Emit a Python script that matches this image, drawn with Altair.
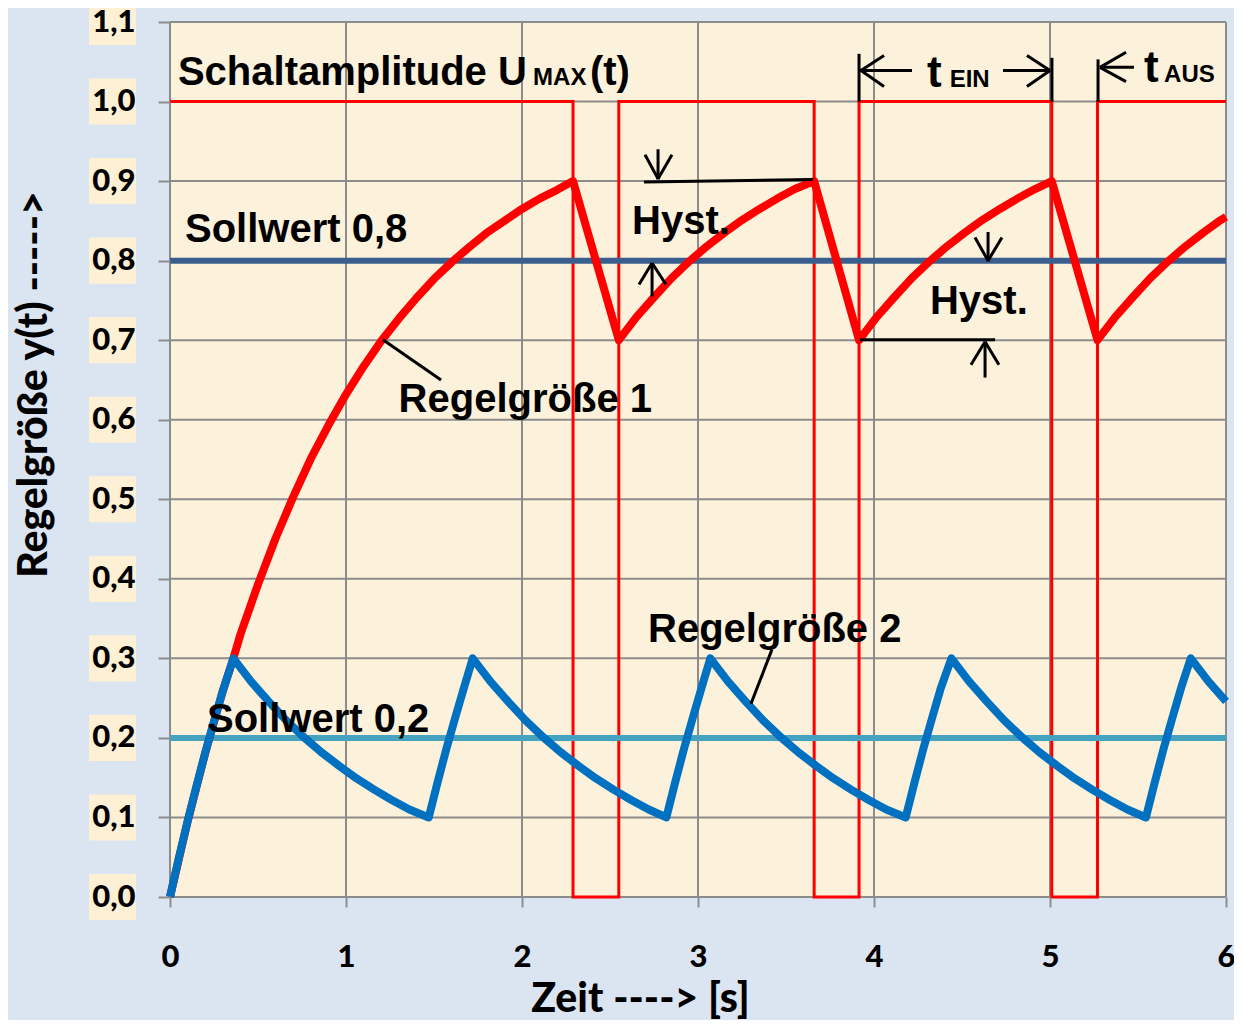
import altair as alt
import pandas as pd

# ---------------- data ----------------
x_ticks = [0, 1, 2, 3, 4, 5, 6]
y_ticks = [0.0, 0.1, 0.2, 0.3, 0.4, 0.5, 0.6, 0.7, 0.8, 0.9, 1.0, 1.1]

# Schaltamplitude U_MAX(t)
u_t = [0, 2.29, 2.29, 2.55, 2.55, 3.66, 3.66, 3.915, 3.915, 5.01, 5.01, 5.27, 5.27, 6.0]
u_v = [1, 1, 0, 0, 1, 1, 0, 0, 1, 1, 0, 0, 1, 1]

# Regelgröße 1
r1_t = [0, 0.1, 0.2, 0.3, 0.36, 0.4, 0.5, 0.6, 0.7, 0.8, 0.9, 1.0, 1.1, 1.2, 1.3, 1.4,
        1.5, 1.6, 1.7, 1.8, 1.9, 2.0, 2.1, 2.2, 2.29,
        2.55, 2.65, 2.75, 2.85, 2.95, 3.05, 3.15, 3.25, 3.35, 3.45, 3.55, 3.66,
        3.915, 4.015, 4.115, 4.215, 4.315, 4.415, 4.515, 4.615, 4.715, 4.815, 4.915, 5.01,
        5.27, 5.37, 5.47, 5.57, 5.67, 5.77, 5.87, 5.97, 6.0]
r1_y = [0, 0.095, 0.181, 0.259, 0.30, 0.330, 0.393, 0.451, 0.503, 0.551, 0.593, 0.632,
        0.667, 0.699, 0.727, 0.753, 0.777, 0.798, 0.817, 0.835, 0.850, 0.865, 0.878, 0.889,
        0.90,
        0.70, 0.729, 0.754, 0.778, 0.799, 0.818, 0.835, 0.851, 0.865, 0.878, 0.890, 0.90,
        0.70, 0.729, 0.754, 0.778, 0.799, 0.818, 0.835, 0.851, 0.865, 0.878, 0.890, 0.90,
        0.70, 0.729, 0.754, 0.778, 0.799, 0.818, 0.835, 0.851, 0.855]

# Regelgröße 2
r2_t = [0, 0.05, 0.1, 0.15, 0.2, 0.25, 0.3, 0.36,
        0.46, 0.56, 0.66, 0.76, 0.86, 0.96, 1.06, 1.16, 1.26, 1.36, 1.47,
        1.52, 1.57, 1.62, 1.67, 1.72,
        1.82, 1.92, 2.02, 2.12, 2.22, 2.32, 2.42, 2.52, 2.62, 2.72, 2.82,
        2.87, 2.92, 2.97, 3.02, 3.07,
        3.17, 3.27, 3.37, 3.47, 3.57, 3.67, 3.77, 3.87, 3.97, 4.07, 4.18,
        4.23, 4.28, 4.33, 4.38, 4.44,
        4.54, 4.64, 4.74, 4.84, 4.94, 5.04, 5.14, 5.24, 5.34, 5.44, 5.545,
        5.595, 5.645, 5.695, 5.745, 5.80,
        5.90, 6.0]
r2_y = [0, 0.049, 0.095, 0.139, 0.181, 0.221, 0.259, 0.30,
        0.271, 0.246, 0.222, 0.201, 0.182, 0.165, 0.149, 0.135, 0.122, 0.110, 0.10,
        0.144, 0.186, 0.225, 0.263, 0.30,
        0.271, 0.246, 0.222, 0.201, 0.182, 0.165, 0.149, 0.135, 0.122, 0.110, 0.10,
        0.144, 0.186, 0.225, 0.263, 0.30,
        0.271, 0.246, 0.222, 0.201, 0.182, 0.165, 0.149, 0.135, 0.122, 0.110, 0.10,
        0.144, 0.186, 0.225, 0.263, 0.30,
        0.271, 0.246, 0.222, 0.201, 0.182, 0.165, 0.149, 0.135, 0.122, 0.110, 0.10,
        0.144, 0.186, 0.225, 0.263, 0.30,
        0.271, 0.246]

# Sollwerte
soll_08 = [0.8]
soll_02 = [0.2]

# annotation segments (leader lines, hysteresis and time arrows)
seg_x1 = [1.210, 3.420, 2.693, 2.773, 2.699, 2.852, 2.739, 2.665, 2.818,
          4.648, 4.574, 4.727, 3.920, 4.631, 4.551, 4.710,
          3.915, 5.011, 3.920, 4.057, 4.057, 4.733, 4.869, 4.869,
          5.273, 5.284, 5.432, 5.432]
seg_y1 = [0.7006, 0.311, 0.899, 0.940, 0.933, 0.933, 0.755, 0.770, 0.770,
          0.836, 0.829, 0.829, 0.7006, 0.653, 0.669, 0.669,
          1.060, 1.055, 1.039, 1.058, 1.019, 1.039, 1.058, 1.019,
          1.053, 1.043, 1.062, 1.025]
seg_x2 = [1.540, 3.301, 3.653, 2.773, 2.773, 2.773, 2.739, 2.739, 2.739,
          4.648, 4.648, 4.648, 4.688, 4.631, 4.631, 4.631,
          3.915, 5.011, 4.216, 3.926, 3.926, 5.000, 5.000, 5.000,
          5.273, 5.477, 5.284, 5.284]
seg_y2 = [0.650, 0.243, 0.902, 0.902, 0.903, 0.903, 0.797, 0.797, 0.797,
          0.799, 0.800, 0.800, 0.7006, 0.698, 0.698, 0.698,
          1.000, 1.000, 1.039, 1.039, 1.039, 1.039, 1.039, 1.039,
          1.000, 1.043, 1.043, 1.043]

# big annotation texts
txt_label = ["Schaltamplitude U", "(t)", "Sollwert 0,8", "Regelgröße 1", "Hyst.", "Hyst.",
             "Regelgröße 2", "Sollwert 0,2"]
txt_x = [0.045, 2.386, 0.085, 1.299, 2.625, 4.318, 2.716, 0.210]
txt_y = [1.021, 1.021, 0.823, 0.610, 0.833, 0.733, 0.321, 0.2075]

# time symbols "t" (slightly larger)
tsym_label = ["t", "t"]
tsym_x = [4.301, 5.534]
tsym_y = [1.018, 1.024]

# subscripts
sub_label = ["MAX", "EIN", "AUS"]
sub_x = [2.063, 4.430, 5.648]
sub_y = [1.021, 1.018, 1.024]

# ---------------- chart ----------------
XS = alt.Scale(domain=[0, 6], nice=False, zero=False)
YS = alt.Scale(domain=[0, 1.1], nice=False, zero=False)
GRID = "#8c8c8c"

axis_x = alt.Axis(values=x_ticks, format="d", grid=False, domain=False, tickColor=GRID,
                  tickWidth=2, tickSize=10, labelFont="Lato", labelFontWeight=900,
                  labelFontSize=31, labelColor="black", labelBaseline="alphabetic",
                  labelPadding=59, labelFlush=False, title="Zeit ----> [s]",
                  titleFont="Lato", titleFontWeight=900, titleFontSize=41,
                  titleColor="black", titleX=470, titleY=114, titleBaseline="alphabetic",
                  titleAlign="center", zindex=1)
axis_y = alt.Axis(values=y_ticks, grid=False, domain=False, tickColor=GRID, tickWidth=2,
                  tickSize=12,
                  labelExpr="replace(format(datum.value, '.1f'), '.', ',')",
                  labelFont="Lato", labelFontWeight=900, labelFontSize=31,
                  labelColor="black", labelPadding=23, labelBaseline="middle",
                  labelFlush=False,
                  title="Regelgröße y(t) ----->", titleFont="Lato",
                  titleFontWeight=900, titleFontSize=41, titleColor="black",
                  titleX=-124, titleY=362, titleAngle=-90, titleBaseline="alphabetic",
                  titleAlign="center", zindex=1)


def X(f):
    return alt.X(f, scale=XS, axis=axis_x)


def Y(f):
    return alt.Y(f, scale=YS, axis=axis_y)


ytick_df = pd.DataFrame({"y": y_ticks})
boxes = alt.Chart(ytick_df).transform_calculate(
    lo="datum.y - 0.029", hi="datum.y + 0.029"
).mark_rect(color="#fdf0d4").encode(
    x=alt.value(-81), x2=alt.value(-34),
    y=Y("lo:Q"), y2="hi:Q"
)

gridx = alt.Chart(pd.DataFrame({"x": x_ticks})).mark_rule(color=GRID, strokeWidth=2).encode(
    x=X("x:Q")
)
gridy = alt.Chart(ytick_df).mark_rule(color=GRID, strokeWidth=2).encode(
    y=Y("y:Q")
)

u_df = pd.DataFrame({"x": u_t, "y": u_v, "i": range(len(u_t))})
square = alt.Chart(u_df).mark_line(color="#ff0000", strokeWidth=3).encode(
    x=X("x:Q"), y=Y("y:Q"), order="i:O"
)

s08 = alt.Chart(pd.DataFrame({"y": soll_08})).mark_rule(color="#3a5f8e", strokeWidth=6).encode(
    y=Y("y:Q")
)
s02 = alt.Chart(pd.DataFrame({"y": soll_02})).mark_rule(color="#46a3bf", strokeWidth=6).encode(
    y=Y("y:Q")
)

r1_df = pd.DataFrame({"x": r1_t, "y": r1_y, "i": range(len(r1_t))})
curve1 = alt.Chart(r1_df).mark_line(color="#ff0000", strokeWidth=8, strokeJoin="round").encode(
    x=X("x:Q"), y=Y("y:Q"), order="i:O"
)
r2_df = pd.DataFrame({"x": r2_t, "y": r2_y, "i": range(len(r2_t))})
curve2 = alt.Chart(r2_df).mark_line(color="#0070c0", strokeWidth=8, strokeJoin="round").encode(
    x=X("x:Q"), y=Y("y:Q"), order="i:O"
)

seg_df = pd.DataFrame({"x": seg_x1, "y": seg_y1, "x2": seg_x2, "y2": seg_y2})
segs = alt.Chart(seg_df).mark_rule(color="black", strokeWidth=3).encode(
    x=X("x:Q"), y=Y("y:Q"), x2="x2:Q", y2="y2:Q"
)

txt_df = pd.DataFrame({"x": txt_x, "y": txt_y, "t": txt_label})
texts = alt.Chart(txt_df).mark_text(align="left", baseline="alphabetic",
                                    font="Liberation Sans", fontWeight="bold",
                                    fontSize=40, color="black").encode(
    x=X("x:Q"), y=Y("y:Q"), text="t:N"
)
tsym_df = pd.DataFrame({"x": tsym_x, "y": tsym_y, "t": tsym_label})
tsyms = alt.Chart(tsym_df).mark_text(align="left", baseline="alphabetic",
                                     font="Liberation Sans", fontWeight="bold",
                                     fontSize=44, color="black").encode(
    x=X("x:Q"), y=Y("y:Q"), text="t:N"
)
sub_df = pd.DataFrame({"x": sub_x, "y": sub_y, "t": sub_label})
subs = alt.Chart(sub_df).mark_text(align="left", baseline="alphabetic",
                                   font="Liberation Sans", fontWeight="bold",
                                   fontSize=24, color="black").encode(
    x=X("x:Q"), y=Y("y:Q"), text="t:N"
)

chart = alt.layer(
    boxes, gridx, gridy, square, s08, s02, curve1, curve2, segs, texts, tsyms, subs
).properties(
    width=1056, height=875,
    padding={"left": 162, "top": 14, "right": 8, "bottom": 123},
    autosize=alt.AutoSizeParams(type="none"),
    background="#dbe5f1",
).configure_view(fill="#fcf1da", strokeWidth=0)

chart.save("out.html", embed_options={"renderer": "svg", "actions": False})
